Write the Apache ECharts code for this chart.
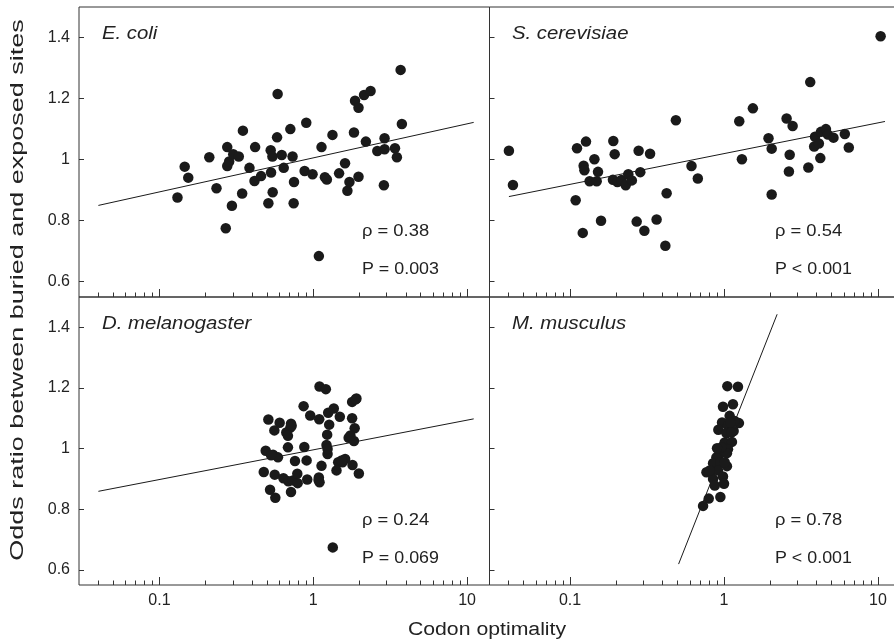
<!DOCTYPE html>
<html>
<head>
<meta charset="utf-8">
<script src="https://cdn.jsdelivr.net/npm/echarts@6/dist/echarts.min.js"></script>
<style>
html,body{margin:0;padding:0;background:#fff;}
#chart{width:894px;height:644px;}
</style>
</head>
<body>
<div id="chart"></div>
<script>
// ---- data ----
var panelTitles = ['E. coli', 'S. cerevisiae', 'D. melanogaster', 'M. musculus'];
var rhoLabels = ['\u03c1 = 0.38', '\u03c1 = 0.54', '\u03c1 = 0.24', '\u03c1 = 0.78'];
var pLabels = ['P = 0.003', 'P < 0.001', 'P = 0.069', 'P < 0.001'];

var xMajorTicks = [0.1, 1, 10];
var xMinorTicks = [0.04,0.05,0.06,0.07,0.08,0.09,0.2,0.3,0.4,0.5,0.6,0.7,0.8,0.9,2,3,4,5,6,7,8,9];
var xTickLabels = ['0.1', '1', '10'];
var yTicks = [0.6, 0.8, 1, 1.2, 1.4];
var yTickLabels = ['0.6', '0.8', '1', '1.2', '1.4'];

var ecoliX = [0.131,0.146,0.154,0.211,0.235,0.270,0.276,0.276,0.284,0.296,0.302,0.328,0.345,0.349,0.385,0.415,0.419,0.458,0.511,0.529,0.532,0.545,0.543,0.582,0.587,0.624,0.643,0.710,0.734,0.750,0.746,0.879,0.901,0.99,1.088,1.132,1.191,1.226,1.334,1.473,1.61,1.668,1.72,1.84,1.87,1.97,1.97,2.14,2.20,2.36,2.61,2.88,2.91,2.91,3.40,3.50,3.70,3.77];
var ecoliY = [0.876,0.977,0.941,1.008,0.906,0.775,1.041,0.979,0.994,0.849,1.018,1.010,0.889,1.095,0.973,0.930,1.041,0.946,0.857,1.031,0.958,0.893,1.010,1.073,1.215,1.015,0.973,1.100,1.010,0.927,0.857,0.963,1.121,0.952,0.684,1.041,0.942,0.935,1.081,0.955,0.988,0.898,0.927,1.089,1.193,1.170,0.944,1.212,1.059,1.225,1.028,0.916,1.070,1.034,1.037,1.008,1.294,1.117];
var ecoliLineX = [0.0401, 11.05];
var ecoliLineY = [0.850, 1.122];

var scerX = [0.0401,0.0426,0.1088,0.111,0.121,0.1226,0.124,0.127,0.134,0.144,0.149,0.152,0.159,0.190,0.191,0.195,0.203,0.216,0.230,0.239,0.252,0.271,0.279,0.286,0.304,0.331,0.365,0.416,0.424,0.487,0.615,0.676,1.256,1.307,1.54,1.945,2.04,2.04,2.55,2.67,2.64,2.79,3.53,3.63,3.85,3.90,4.13,4.22,4.26,4.59,4.73,5.14,6.09,6.46,10.4];
var scerY = [1.029,0.917,0.867,1.037,0.760,0.980,0.965,1.059,0.929,1.001,0.929,0.960,0.800,0.934,1.061,1.018,0.927,0.933,0.916,0.952,0.932,0.797,1.029,0.959,0.767,1.019,0.804,0.718,0.890,1.129,0.979,0.938,1.126,1.001,1.168,1.070,0.886,1.036,1.135,1.016,0.961,1.110,0.974,1.254,1.043,1.075,1.053,1.005,1.091,1.100,1.082,1.072,1.084,1.040,1.404];
var scerLineX = [0.0401, 11.1];
var scerLineY = [0.879, 1.125];

var dmelX = [0.511,0.605,0.559,0.717,0.710,0.668,0.685,0.866,0.956,1.099,1.208,1.094,1.251,1.361,1.489,1.270,1.232,1.79,1.91,1.79,1.86,1.70,1.84,1.22,1.24,0.875,0.685,0.491,0.548,0.590,0.761,0.906,1.132,1.453,1.612,1.55,1.80,1.417,1.98,0.477,0.562,0.640,0.689,0.738,0.788,0.914,1.088,1.099,0.524,0.567,0.717,1.34,0.792,1.083,1.24,1.53,0.532,0.724,1.89,1.745];
var dmelY = [1.096,1.085,1.060,1.082,1.069,1.053,1.042,1.140,1.109,1.205,1.196,1.097,1.118,1.132,1.105,1.079,1.046,1.154,1.165,1.100,1.067,1.036,1.025,1.012,0.982,1.005,1.004,0.993,0.980,0.971,0.959,0.961,0.943,0.955,0.966,0.955,0.946,0.928,0.918,0.923,0.914,0.902,0.892,0.895,0.917,0.898,0.905,0.889,0.864,0.838,0.857,0.674,0.886,0.896,0.999,0.961,0.978,1.075,1.163,1.043];
var dmelLineX = [0.0401, 11.05];
var dmelLineY = [0.859, 1.098];

var mmusX = [1.051,1.232,0.985,1.143,1.088,1.250,0.971,1.061,0.919,1.155,1.035,1.01,1.126,1.061,0.937,1.045,0.892,0.849,0.947,1.045,0.769,0.828,0.914,0.849,0.985,0.871,1.0,0.796,0.947,0.731,0.808,0.962,1.115,1.172,1.01,0.901,1.099];
var mmusY = [1.206,1.204,1.138,1.146,1.108,1.084,1.086,1.075,1.062,1.058,1.051,1.020,1.022,0.998,0.982,0.985,0.971,0.952,0.955,0.942,0.922,0.924,0.928,0.900,0.908,0.878,0.884,0.835,0.840,0.811,0.928,1.004,1.053,1.091,0.955,1.001,1.086];
var mmusLineX = [0.507, 2.213];
var mmusLineY = [0.619, 1.443];

// ---- layout ----
var FONT = '"Liberation Sans", Arial, Helvetica, sans-serif';
var INK = '#1a1a1a';
var AXC = '#333333';
var grids = [
  {left: 79, top: 7, width: 410.5, height: 290},
  {left: 489.5, top: 7, width: 411, height: 290},
  {left: 79, top: 297, width: 410.5, height: 288},
  {left: 489.5, top: 297, width: 411, height: 288}
];
var pointsX = [ecoliX, scerX, dmelX, mmusX];
var pointsY = [ecoliY, scerY, dmelY, mmusY];
var linesX = [ecoliLineX, scerLineX, dmelLineX, mmusLineX];
var linesY = [ecoliLineY, scerLineY, dmelLineY, mmusLineY];

function pairs(xs, ys) { return xs.map(function (x, i) { return [x, ys[i]]; }); }

var gridOpts = [], xAxes = [], yAxes = [], series = [], texts = [];
grids.forEach(function (g, i) {
  gridOpts.push({left: g.left, top: g.top, width: g.width, height: g.height,
    show: true, borderColor: AXC, borderWidth: 1, backgroundColor: 'transparent',
    containLabel: false, outerBoundsMode: 'none'});
  var showLabels = i >= 2;
  xAxes.push({type: 'log', logBase: 10, gridIndex: i, min: 0.03, max: 14, position: 'bottom',
    axisLine: {show: false},
    axisTick: {show: true, inside: true, length: 8, customValues: xMajorTicks, lineStyle: {color: AXC, width: 1}},
    axisLabel: {show: showLabels, customValues: xMajorTicks, margin: 8, color: '#222', fontSize: 16, fontFamily: FONT,
      formatter: function (v) { var k = xMajorTicks.findIndex(function (t) { return Math.abs(t - v) / t < 1e-6; }); return k >= 0 ? xTickLabels[k] : ''; }},
    splitLine: {show: false}, minorTick: {show: false}, minorSplitLine: {show: false}
  });
  xAxes.push({type: 'log', logBase: 10, gridIndex: i, min: 0.03, max: 14, position: 'bottom',
    axisLine: {show: false},
    axisTick: {show: true, inside: true, length: 4.5, customValues: xMinorTicks, lineStyle: {color: AXC, width: 1}},
    axisLabel: {show: false},
    splitLine: {show: false}
  });
  yAxes.push({type: 'value', gridIndex: i, min: 0.55, max: 1.5,
    axisLine: {show: false},
    axisTick: {show: true, inside: true, length: 5, customValues: yTicks, lineStyle: {color: AXC, width: 1}},
    axisLabel: {show: i % 2 === 0, customValues: yTicks, margin: 9, color: '#222', fontSize: 16, fontFamily: FONT,
      formatter: function (v) { var k = yTicks.findIndex(function (t) { return Math.abs(t - v) < 1e-6; }); return k >= 0 ? yTickLabels[k] : ''; }},
    splitLine: {show: false}
  });
  series.push({type: 'line', xAxisIndex: 2 * i, yAxisIndex: i, data: pairs(linesX[i], linesY[i]),
    symbol: 'none', lineStyle: {color: INK, width: 1}, silent: true, animation: false, z: 2});
  series.push({type: 'scatter', xAxisIndex: 2 * i, yAxisIndex: i, data: pairs(pointsX[i], pointsY[i]),
    symbol: 'circle', symbolSize: 10.5, itemStyle: {color: INK, opacity: 1}, silent: true, animation: false, z: 3});

  var tx = (i % 2 === 0) ? 102 : 512;
  var ty = (i < 2) ? 33.5 : 323.5;
  texts.push({type: 'text', x: tx, y: ty, scaleX: 1.13, style: {text: panelTitles[i], fill: '#222', font: 'italic 18px ' + FONT, textAlign: 'left', textVerticalAlign: 'middle'}});
  var ax = (i % 2 === 0) ? 362 : 775;
  var ay = (i < 2) ? 231 : 520;
  texts.push({type: 'text', x: ax, y: ay, scaleX: 1.08, style: {text: rhoLabels[i], fill: '#222', font: '17px ' + FONT, textAlign: 'left', textVerticalAlign: 'middle'}});
  texts.push({type: 'text', x: ax, y: ay + 38.5, scaleX: 1.05, style: {text: pLabels[i], fill: '#222', font: '17px ' + FONT, textAlign: 'left', textVerticalAlign: 'middle'}});
});

texts.push({type: 'text', x: 487, y: 630, scaleX: 1.18, style: {text: 'Codon optimality', fill: '#222', font: '18px ' + FONT, textAlign: 'center', textVerticalAlign: 'middle'}});
texts.push({type: 'text', x: 18, y: 290, rotation: Math.PI / 2, scaleX: 1.42, style: {text: 'Odds ratio between buried and exposed sites', fill: '#222', font: '19px ' + FONT, textAlign: 'center', textVerticalAlign: 'middle'}});

var chart = echarts.init(document.getElementById('chart'), null, {renderer: 'canvas'});
chart.setOption({
  animation: false,
  backgroundColor: '#ffffff',
  grid: gridOpts,
  xAxis: xAxes,
  yAxis: yAxes,
  series: series,
  graphic: {elements: texts}
});
</script>
</body>
</html>
